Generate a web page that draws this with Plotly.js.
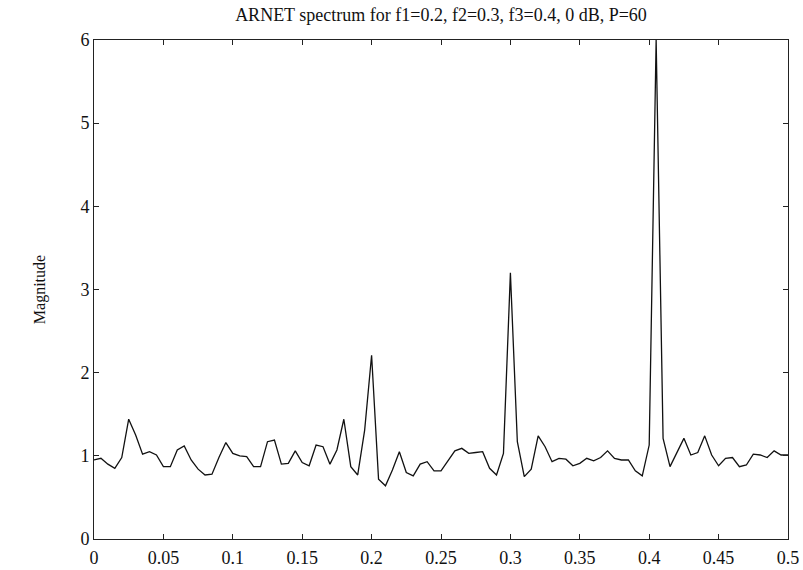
<!DOCTYPE html>
<html>
<head>
<meta charset="utf-8">
<script src="https://cdn.plot.ly/plotly-3.0.1.min.js"></script>
<style>html,body{margin:0;padding:0;background:#fff;}#chart{width:803px;height:570px;}</style>
</head>
<body>
<div id="chart"></div>
<script>
// Frequency grid step (normalized frequency), 0 .. 0.5
const freqStep = 0.005;
const magnitude = [
  0.95, 0.97, 0.90, 0.85, 0.98, 1.44, 1.25, 1.02, 1.05, 1.01,
  0.87, 0.87, 1.07, 1.12, 0.95, 0.84, 0.77, 0.78, 0.98, 1.16,
  1.03, 1.00, 0.99, 0.87, 0.87, 1.17, 1.19, 0.90, 0.91, 1.06,
  0.92, 0.88, 1.13, 1.11, 0.90, 1.07, 1.44, 0.87, 0.77, 1.31,
  2.21, 0.72, 0.64, 0.83, 1.05, 0.80, 0.76, 0.90, 0.93, 0.82,
  0.82, 0.94, 1.06, 1.09, 1.03, 1.04, 1.05, 0.85, 0.77, 1.03,
  3.20, 1.17, 0.75, 0.84, 1.24, 1.11, 0.93, 0.97, 0.96, 0.88,
  0.91, 0.97, 0.94, 0.98, 1.06, 0.97, 0.95, 0.95, 0.82, 0.76,
  1.13, 6.00, 1.21, 0.87, 1.05, 1.21, 1.01, 1.04, 1.24, 1.01,
  0.88, 0.97, 0.98, 0.87, 0.89, 1.02, 1.01, 0.98, 1.06, 1.01,
  1.01
];
const frequency = magnitude.map((_, i) => +(i * freqStep).toFixed(4));
const xTickVals = [0, 0.05, 0.1, 0.15, 0.2, 0.25, 0.3, 0.35, 0.4, 0.45, 0.5];
const xTickText = ['0', '0.05', '0.1', '0.15', '0.2', '0.25', '0.3', '0.35', '0.4', '0.45', '0.5'];
const yTickVals = [0, 1, 2, 3, 4, 5, 6];
const titleText = 'ARNET spectrum for f1=0.2, f2=0.3, f3=0.4, 0 dB, P=60';
const yTitleText = 'Magnitude';

const font = 'Liberation Serif, Times New Roman, serif';

const trace = {
  x: frequency,
  y: magnitude,
  type: 'scatter',
  mode: 'lines',
  line: {color: '#111', width: 1.3},
  hoverinfo: 'skip',
  cliponaxis: true
};

const axisCommon = {
  showline: true,
  linecolor: '#222',
  linewidth: 1,
  mirror: 'ticks',
  ticks: 'inside',
  ticklen: 5,
  tickwidth: 1,
  tickcolor: '#222',
  showgrid: false,
  zeroline: false,
  tickfont: {family: font, size: 18, color: '#111'}
};

const layout = {
  width: 803,
  height: 570,
  paper_bgcolor: '#fff',
  plot_bgcolor: '#fff',
  margin: {l: 94, r: 15, t: 40, b: 31, pad: 0},
  showlegend: false,
  title: {
    text: titleText,
    font: {family: font, size: 18, color: '#111'},
    x: 0.5, xref: 'paper', xanchor: 'center',
    y: 1 - 15 / 570, yref: 'container', yanchor: 'middle'
  },
  xaxis: Object.assign({}, axisCommon, {
    range: [0, 0.5],
    tickmode: 'array',
    tickvals: xTickVals,
    ticktext: xTickText,
    ticklabelstandoff: 2
  }),
  yaxis: Object.assign({}, axisCommon, {
    range: [0, 6],
    tickmode: 'array',
    tickvals: yTickVals,
    ticktext: yTickVals.map(String),
    title: {text: yTitleText, font: {family: font, size: 16, color: '#111'}, standoff: 30}
  })
};

Plotly.newPlot('chart', [trace], layout, {displayModeBar: false, staticPlot: true});
</script>
</body>
</html>
